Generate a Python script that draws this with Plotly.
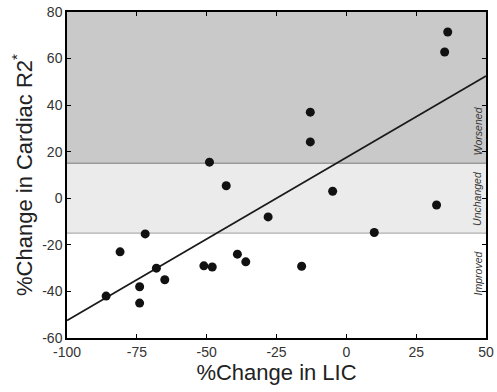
import plotly.graph_objects as go

lic_change = [-49, -43, 36.3, 35.2, -12.9, -12.9, -4.9, -72, -81, -68, -65, -74, -74,
              -86, -51, -48, -39, -36, -28, -16, 10, 32.3]
r2_change = [15.5, 5.4, 71.4, 62.8, 37, 24.2, 3.0, -15.3, -23, -30, -35, -38, -45,
             -42, -29, -29.5, -24, -27.3, -8, -29.2, -14.7, -2.9]

fit_x = [-100, 50]
fit_slope = 0.70
fit_intercept = 17.5

band_edges = [-15, 15]
x_ticks = [-100, -75, -50, -25, 0, 25, 50]
y_ticks = [-60, -40, -20, 0, 20, 40, 60, 80]
zone_labels = ["Worsened", "Unchanged", "Improved"]
zone_label_y = [29, 0, -32]

FONT = "Liberation Sans, Arial, Helvetica, sans-serif"

fig = go.Figure()

fig.add_shape(type="rect", xref="x", yref="y", x0=-100, x1=50, y0=band_edges[1], y1=80,
              fillcolor="#c9c9c9", line_width=0, layer="below")
fig.add_shape(type="rect", xref="x", yref="y", x0=-100, x1=50, y0=band_edges[0], y1=band_edges[1],
              fillcolor="#ebebeb", line_width=0, layer="below")
fig.add_shape(type="line", xref="x", yref="y", x0=-100, x1=50, y0=band_edges[1], y1=band_edges[1],
              line=dict(color="#9a9a9a", width=1.5), layer="below")
fig.add_shape(type="line", xref="x", yref="y", x0=-100, x1=50, y0=band_edges[0], y1=band_edges[0],
              line=dict(color="#b0b0b0", width=1.2), layer="below")

fig.add_trace(go.Scatter(
    x=fit_x, y=[fit_slope * v + fit_intercept for v in fit_x],
    mode="lines", line=dict(color="#1a1a1a", width=1.8), showlegend=False, hoverinfo="skip"))

fig.add_trace(go.Scatter(
    x=lic_change, y=r2_change, mode="markers",
    marker=dict(color="#111111", size=9, line_width=0), showlegend=False))

for lab, yv in zip(zone_labels, zone_label_y):
    fig.add_annotation(x=47, y=yv, xref="x", yref="y", text="<i>" + lab + "</i>",
                       textangle=-90, showarrow=False,
                       font=dict(family=FONT, size=10.5, color="#333333"))

axis_common = dict(showgrid=False, zeroline=False, showline=True, linecolor="black",
                   linewidth=1.5, mirror="ticks", ticks="inside", ticklen=4,
                   tickcolor="black", tickwidth=1.2, automargin=False,
                   tickfont=dict(family=FONT, size=14, color="#333333"))

fig.update_xaxes(range=[-100, 50], tickvals=x_ticks, ticktext=[str(v) for v in x_ticks],
                 title=dict(text="%Change in LIC", font=dict(family=FONT, size=22, color="#222222"),
                            standoff=2),
                 **axis_common)
fig.update_yaxes(range=[-60, 80], tickvals=y_ticks, ticktext=[str(v) for v in y_ticks],
                 title=dict(text="%Change in Cardiac R2<sup>*</sup>",
                            font=dict(family=FONT, size=22, color="#222222"), standoff=4),
                 **axis_common)

fig.update_layout(width=497, height=392, margin=dict(l=67, r=11, t=12, b=54),
                  plot_bgcolor="white", paper_bgcolor="white")

fig.write_html("out.html", config={"displayModeBar": False})

with open("out.html", "r", encoding="utf-8") as fh:
    page = fh.read()
page = page.replace("<body>", '<body style="margin:0;padding:0;">', 1)
with open("out.html", "w", encoding="utf-8") as fh:
    fh.write(page)
